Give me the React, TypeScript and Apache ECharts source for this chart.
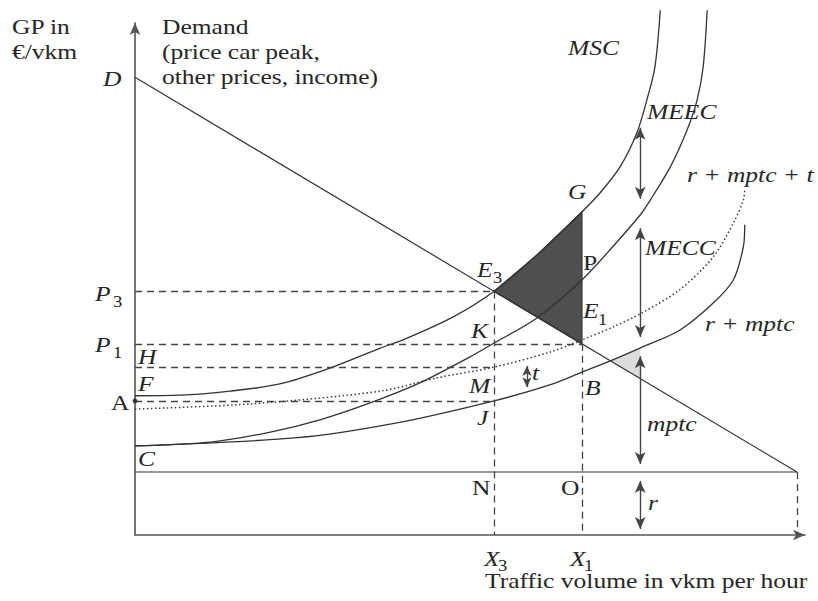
import React, { useEffect, useRef } from "react";
import * as echarts from "echarts";

// ---------- data (diagram units: x = traffic volume, y = generalised price) ----------
const demandX = [0, 98.8];
const demandY = [89.4, 12.3];
const rLevel = 12.3;
const x3 = 53.6;
const x1 = 66.7;
const arrowX = 75.4;
const taxArrowX = 58.5;

// MSC curve
const mscX = [0, 6.7, 14.2, 21.6, 29.1, 36.6, 40.0, 47.5, 53.6, 60.0, 66.7, 69.4, 72.4, 74.9, 76.4, 77.6, 78.4];
const mscY = [27.2, 27.3, 28.1, 29.5, 32.6, 36.5, 38.1, 42.6, 47.6, 54.7, 63.1, 66.8, 71.9, 78.5, 85.0, 91.4, 102.5];

// r + mptc + MECC curve
const mccX = [0, 11.6, 20.2, 27.6, 35.1, 42.5, 50.0, 53.6, 60.0, 66.7, 71.3, 75.4, 76.9, 79.9, 82.4, 83.9, 84.8, 85.4];
const mccY = [17.4, 18.2, 20.1, 22.5, 25.8, 29.7, 34.8, 37.5, 42.4, 49.8, 56.3, 62.5, 65.4, 71.9, 79.1, 85.0, 91.4, 102.5];

// r + mptc curve
const rmX = [0, 24.2, 39.1, 53.6, 61.9, 66.7, 71.3, 75.7, 81.3, 86.3, 89.3, 90.8, 91.0];
const rmY = [17.4, 19.0, 21.9, 26.2, 29.3, 31.8, 34.2, 36.7, 40.0, 45.3, 49.8, 56.3, 60.6];

// r + mptc + t curve (dotted)
const rmtX = [0, 17.2, 36.6, 45.1, 53.6, 61.9, 66.7, 71.3, 75.7, 81.3, 86.3, 89.3, 90.8, 91.0];
const rmtY = [24.6, 25.6, 28.1, 30.7, 32.8, 35.7, 38.1, 40.6, 43.4, 47.9, 54.3, 60.9, 65.4, 67.4];

// vertical double arrows [top, bottom]
const meecArrow = [80.7, 64.5];
const meccArrow = [61.1, 37.5];
const mptcArrow = [36.1, 12.7];
const rArrow = [11.7, 0];
const tArrow = [34.0, 27.9];

// ---------- helpers ----------
function at(xs: number[], ys: number[], x: number): number {
  for (let i = 0; i < xs.length - 1; i++) {
    if (x >= xs[i] && x <= xs[i + 1]) {
      const t = (x - xs[i]) / (xs[i + 1] - xs[i]);
      return ys[i] + t * (ys[i + 1] - ys[i]);
    }
  }
  return ys[ys.length - 1];
}
const pairs = (xs: number[], ys: number[]) => xs.map((x, i) => [x, ys[i]]);
const demandAt = (x: number) => at(demandX, demandY, x);

const INK = "#333";
const FONT = "'Liberation Serif', 'Times New Roman', Times, serif";
const SX = 1.16;

function txt(text: string, x: number, y: number, italic = true, size = 22) {
  return {
    type: "text",
    x,
    y,
    scaleX: SX,
    scaleY: 1,
    silent: true,
    style: {
      text,
      fill: "#262626",
      font: `${italic ? "italic " : ""}${size}px ${FONT}`,
      fontSize: size,
      fontFamily: FONT,
      fontStyle: italic ? "italic" : "normal",
      align: "left",
      verticalAlign: "middle",
    },
  };
}

export default function App() {
  const ref = useRef<HTMLDivElement>(null);

  useEffect(() => {
    if (!ref.current) return;
    const chart = echarts.init(ref.current, undefined, { renderer: "svg" });

    const p3 = demandAt(x3);
    const p1 = demandAt(x1);
    const hLevel = at(rmtX, rmtY, x3);
    const aLevel = at(rmX, rmY, x3);

    // dark welfare-loss region: E3 -> along MSC -> G -> E1
    const darkPoly: number[][] = [];
    mscX.forEach((x, i) => {
      if (x >= x3 && x <= x1) darkPoly.push([x, mscY[i]]);
    });
    darkPoly.push([x1, p1]);

    // light triangle: demand ∩ (r+mptc) -> curve at arrowX -> demand at arrowX
    let ix = rmX[0];
    for (let x = 60; x <= arrowX; x += 0.01) {
      if (at(rmX, rmY, x) >= demandAt(x)) { ix = x; break; }
    }
    const lightPoly = [
      [ix, demandAt(ix)],
      [arrowX, at(rmX, rmY, arrowX)],
      [arrowX, demandAt(arrowX)],
    ];

    const yScale = 5.12; // px per y unit (only for arrow tip offsets)
    const half = 6 / yScale;
    const smallHalf = 5 / yScale;
    const arrowPair = (x: number, r: number[], h: number) => [
      { coord: [x, r[0] - h] },
      { coord: [x, r[1] + h] },
    ];

    const lineSeries = (data: number[][], style: any = {}, smooth: any = 0.3) => ({
      type: "line",
      data,
      showSymbol: false,
      symbol: "none",
      smooth,
      clip: false,
      silent: true,
      lineStyle: { color: INK, width: 1.3, ...style },
      z: 3,
    });

    const option: any = {
      animation: false,
      backgroundColor: "#fff",
      grid: { left: 135, right: 13, top: 23, bottom: 66 },
      xAxis: {
        type: "value",
        min: 0,
        max: 100,
        axisLine: {
          show: true,
          onZero: false,
          symbol: ["none", "arrow"],
          symbolSize: [8, 12],
          lineStyle: { color: "#555", width: 1.6 },
        },
        axisTick: { show: false },
        axisLabel: { show: false },
        splitLine: { show: false },
      },
      yAxis: {
        type: "value",
        min: 0,
        max: 100,
        axisLine: {
          show: true,
          onZero: false,
          symbol: ["none", "arrow"],
          symbolSize: [8, 12],
          lineStyle: { color: "#555", width: 1.6 },
        },
        axisTick: { show: false },
        axisLabel: { show: false },
        splitLine: { show: false },
      },
      series: [
        {
          type: "custom",
          silent: true,
          clip: false,
          z: 1,
          data: [[0, 0]],
          renderItem: (_p: any, api: any) => ({
            type: "group",
            children: [
              {
                type: "polygon",
                shape: { points: darkPoly.map((p) => api.coord(p)) },
                style: { fill: "#4f4f4f", stroke: INK, lineWidth: 1.3 },
              },
              {
                type: "polygon",
                shape: { points: lightPoly.map((p) => api.coord(p)) },
                style: { fill: "#dcdcdc", stroke: "none" },
              },
            ],
          }),
        },
        lineSeries(pairs(demandX, demandY), { width: 1.2 }, false),
        lineSeries([[0, rLevel], [demandX[1], rLevel]], { width: 1.2 }, false),
        lineSeries(pairs(mscX, mscY)),
        lineSeries(pairs(mccX, mccY)),
        lineSeries(pairs(rmX, rmY)),
        lineSeries(pairs(rmtX, rmtY), { type: [1.5, 2.5], width: 1.5, color: "#3a3a3a" }),
        // dashed guide lines
        {
          type: "line",
          data: [],
          silent: true,
          markLine: {
            silent: true,
            symbol: ["none", "none"],
            label: { show: false },
            lineStyle: { color: "#444", width: 1.3, type: [7, 5] },
            data: [
              [{ coord: [0, p3] }, { coord: [x3, p3] }],
              [{ coord: [0, p1] }, { coord: [x1, p1] }],
              [{ coord: [0, hLevel] }, { coord: [x3, hLevel] }],
              [{ coord: [0, aLevel] }, { coord: [x3, aLevel] }],
              [{ coord: [x3, p3] }, { coord: [x3, 0] }],
              [{ coord: [x1, p1] }, { coord: [x1, 0] }],
              [{ coord: [demandX[1], rLevel] }, { coord: [demandX[1], 0] }],
            ],
          },
        },
        // double arrows
        {
          type: "line",
          data: [],
          silent: true,
          markLine: {
            silent: true,
            symbol: ["arrow", "arrow"],
            symbolSize: [8, 12],
            label: { show: false },
            lineStyle: { color: "#444", width: 1.4, type: "solid" },
            data: [
              arrowPair(arrowX, meecArrow, half),
              arrowPair(arrowX, meccArrow, half),
              arrowPair(arrowX, mptcArrow, half),
              arrowPair(arrowX, rArrow, half),
            ],
          },
        },
        {
          type: "line",
          data: [],
          silent: true,
          markLine: {
            silent: true,
            symbol: ["arrow", "arrow"],
            symbolSize: [7, 10],
            label: { show: false },
            lineStyle: { color: "#444", width: 1.3, type: "solid" },
            data: [arrowPair(taxArrowX, tArrow, smallHalf)],
          },
        },
        // point A
        {
          type: "scatter",
          data: [[0, aLevel]],
          symbolSize: 5,
          clip: false,
          silent: true,
          itemStyle: { color: "#222" },
          z: 5,
        },
      ],
      graphic: [
        txt("GP in", 12, 27, false),
        txt("€/vkm", 12, 52, false),
        txt("Demand", 162, 27, false),
        txt("(price car peak,", 162, 52, false),
        txt("other prices, income)", 162, 77, false),
        txt("D", 103, 79),
        txt("MSC", 568, 48),
        txt("MEEC", 647, 112),
        txt("r + mptc + t", 687, 175),
        txt("G", 568, 192),
        txt("MECC", 645, 248),
        txt("P", 583, 263, false),
        txt("E", 477, 270),
        txt("3", 493, 278, false, 16),
        txt("K", 471, 331),
        txt("E", 583, 311),
        txt("1", 598, 320, false, 16),
        txt("M", 469, 386),
        txt("t", 532, 373),
        txt("B", 585, 388),
        txt("J", 477, 418),
        txt("r + mptc", 705, 324),
        txt("mptc", 647, 424),
        txt("r", 648, 503),
        txt("N", 472, 488, false),
        txt("O", 561, 488, false),
        txt("X", 484, 559),
        txt("3", 498, 566, false, 16),
        txt("X", 570, 559),
        txt("1", 584, 566, false, 16),
        txt("Traffic volume in vkm per hour", 485, 581, false),
        txt("P", 95, 294),
        txt("3", 113, 302, false, 16),
        txt("P", 95, 345),
        txt("1", 113, 353, false, 16),
        txt("H", 138, 357),
        txt("F", 138, 384),
        txt("A", 111, 403, false),
        txt("C", 138, 459),
      ],
    };

    chart.setOption(option);
    return () => chart.dispose();
  }, []);

  return (
    <div
      ref={ref}
      style={{ position: "fixed", left: 0, top: 0, width: 818, height: 601, background: "#fff" }}
    />
  );
}
